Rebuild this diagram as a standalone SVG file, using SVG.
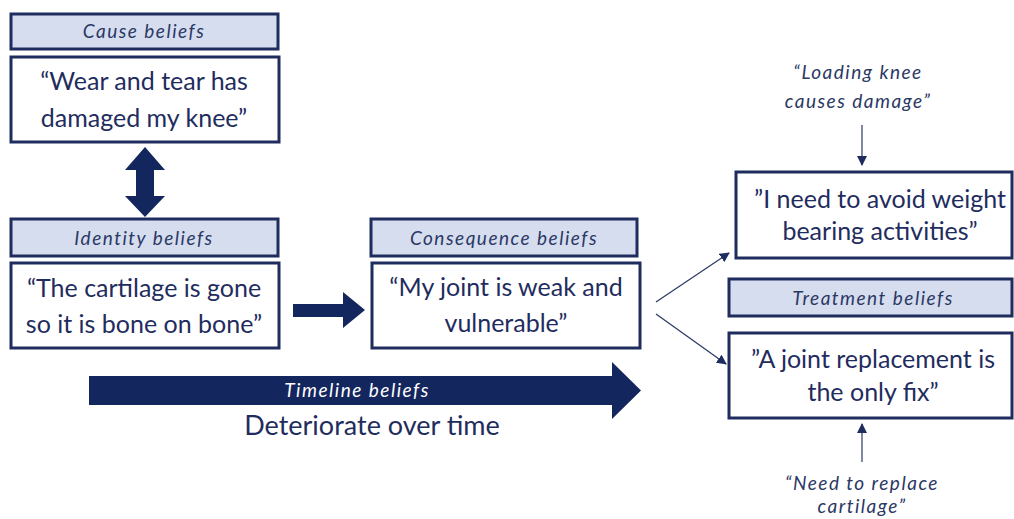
<svg xmlns="http://www.w3.org/2000/svg" width="1014" height="519" viewBox="0 0 1014 519">
<style>
.lbl{fill:#d6ddef;stroke:#1f2d5e;stroke-width:3}
.box{fill:#fff;stroke:#1f2d5e;stroke-width:3}
.lt{font-family:Lato,"Open Sans",sans-serif;font-style:italic;font-size:19px;letter-spacing:1.5px;fill:#2a3864;text-anchor:middle}
.mt{font-family:Lato,"Open Sans",sans-serif;font-size:25px;fill:#1f2d5e;text-anchor:middle}
.thin{stroke:#2a3864;stroke-width:1.2;fill:none}
.blk{fill:#14265e}
</style>
<defs>
<marker id="ah" markerWidth="10" markerHeight="10" refX="9" refY="5" orient="auto" markerUnits="userSpaceOnUse"><path d="M0,0 L10,5 L0,10 z" fill="#1f2d5e"/></marker>
</defs>
<rect width="1014" height="519" fill="#fff"/>
<g id="cause">
<rect class="lbl" x="11" y="14" width="267" height="35"/>
<text class="lt" x="144" y="38">Cause beliefs</text>
<rect class="box" x="11" y="57" width="268" height="85"/>
<text class="mt" x="144" y="90">“Wear and tear has</text>
<text class="mt" x="144" y="127">damaged my knee”</text>
</g>
<g id="identity">
<rect class="lbl" x="11" y="219" width="267" height="37"/>
<text class="lt" x="144" y="245">Identity beliefs</text>
<rect class="box" x="11" y="263" width="268" height="85"/>
<text class="mt" x="144" y="297">“The cartilage is gone</text>
<text class="mt" x="144" y="333">so it is bone on bone”</text>
</g>
<g id="consequence">
<rect class="lbl" x="371" y="219" width="266" height="37"/>
<text class="lt" x="504" y="245">Consequence beliefs</text>
<rect class="box" x="372" y="263" width="268" height="85"/>
<text class="mt" x="506" y="296">“My joint is weak and</text>
<text class="mt" x="506" y="332">vulnerable”</text>
</g>
<g id="avoid">
<rect class="box" x="736" y="172" width="276" height="86"/>
<text class="mt" x="880" y="208">”I need to avoid weight</text>
<text class="mt" x="880" y="240">bearing activities”</text>
</g>
<g id="treatment">
<rect class="lbl" x="729" y="279" width="283" height="37"/>
<text class="lt" x="873" y="305">Treatment beliefs</text>
<rect class="box" x="729" y="333" width="283" height="85"/>
<text class="mt" x="873" y="368">”A joint replacement is</text>
<text class="mt" x="873" y="401">the only fix”</text>
</g>
<g id="loading">
<text class="lt" x="858" y="79">“Loading knee</text>
<text class="lt" x="858" y="108">causes damage”</text>
</g>
<g id="replace">
<text class="lt" x="862" y="490">“Need to replace</text>
<text class="lt" x="862" y="513">cartilage”</text>
</g>
<g id="timeline">
<path class="blk" d="M89,376 L612,376 L612,362 L641,390.5 L612,419 L612,405 L89,405 z"/>
<text x="357" y="397" font-family="Lato,'Open Sans',sans-serif" font-style="italic" font-size="19" letter-spacing="1.5" fill="#fff" text-anchor="middle">Timeline beliefs</text>
<text class="mt" x="372" y="435" font-size="27" style="font-size:27px">Deteriorate over time</text>
</g>
<g id="connectors">
<path class="blk" d="M145,147 L165,170 L154,170 L154,196 L165,196 L145,217 L125,196 L136,196 L136,170 L125,170 z"/>
<path class="blk" d="M293,304 L343,304 L343,292 L365,310 L343,328 L343,317 L293,317 z"/>
<line class="thin" x1="656" y1="302" x2="729" y2="253" marker-end="url(#ah)"/>
<line class="thin" x1="656" y1="314" x2="726" y2="364" marker-end="url(#ah)"/>
<line class="thin" x1="862" y1="125" x2="862" y2="165" marker-end="url(#ah)"/>
<line class="thin" x1="862" y1="462" x2="862" y2="424" marker-end="url(#ah)"/>
</g>
</svg>
